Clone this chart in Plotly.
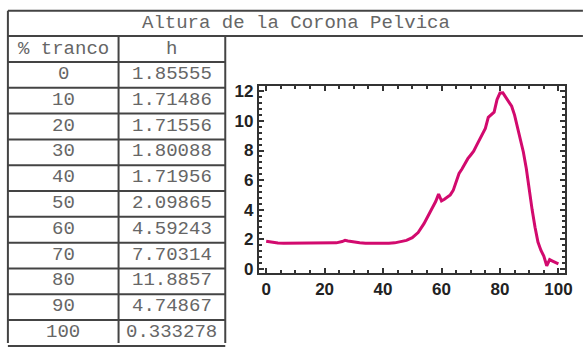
import plotly.graph_objects as go

# table values (Altura de la Corona Pelvica)
tranco = [0, 10, 20, 30, 40, 50, 60, 70, 80, 90, 100]
h_table = [1.85555, 1.71486, 1.71556, 1.80088, 1.71956, 2.09865,
           4.59243, 7.70314, 11.8857, 4.74867, 0.333278]

# curve
x_curve = [0, 2, 4, 6, 8, 10, 12, 14, 16, 18, 20, 22, 24, 26, 27, 28, 30, 32,
           34, 36, 38, 40, 42, 44, 46, 48, 50, 52, 54, 56, 58, 59, 60, 61, 62,
           63, 64, 65, 66, 67, 68, 69, 70, 71, 72, 73, 74, 75, 76, 77, 78, 79,
           80, 81, 82, 83, 84, 85, 86, 87, 88, 89, 90, 91, 92, 93, 94, 95, 96,
           97, 98, 99, 100]
y_curve = [1.86, 1.78, 1.74, 1.72, 1.72, 1.71, 1.72, 1.73, 1.71, 1.72, 1.72,
           1.73, 1.75, 1.84, 1.92, 1.88, 1.80, 1.76, 1.73, 1.72, 1.71, 1.72,
           1.72, 1.75, 1.82, 1.92, 2.10, 2.45, 3.05, 3.75, 4.55, 5.05, 4.59,
           4.70, 4.85, 5.00, 5.30, 5.95, 6.45, 6.75, 7.15, 7.45, 7.70, 7.95,
           8.35, 8.75, 9.05, 9.50, 10.25, 10.45, 10.60, 11.45, 11.89, 11.90,
           11.60, 11.30, 11.00, 10.40, 9.60, 8.80, 7.90, 6.80, 5.30, 4.00,
           2.80, 1.80, 1.25, 0.85, 0.20, 0.62, 0.52, 0.45, 0.33]

W, H = 583, 349
grid = "#444444"
txt = "#666666"
mono = "Liberation Mono, Courier New, monospace"
mono_font = dict(family=mono, size=19, color=txt, weight="normal")


def px(x):
    return x / W


def py(y):
    return 1 - y / H


fig = go.Figure()

fig.add_trace(go.Scatter(x=x_curve, y=y_curve, mode="lines",
                         line=dict(color="#d20a6e", width=3),
                         showlegend=False))

# table drawn as a grid of lines plus text (pixel layout)
col_x = [8, 120, 228]
row_top = 60.5
row_h = 26.5
line = dict(color=grid, width=2)


def hline(y, x0, x1):
    fig.add_shape(type="line", xref="paper", yref="paper",
                  x0=px(x0), x1=px(x1), y0=py(y), y1=py(y), line=line)


def cell_text(text, xc, yc):
    fig.add_annotation(x=px(xc), y=py(yc), xref="paper", yref="paper",
                       xanchor="center", yanchor="middle", text=text,
                       showarrow=False, font=mono_font)


hline(8, 8, 590)
hline(34, 8, 590)
for cx in col_x:
    fig.add_shape(type="line", xref="paper", yref="paper",
                  x0=px(cx), x1=px(cx), y0=py(34 if cx != 8 else 8), y1=0,
                  line=line)

cell_text("Altura de la Corona Pelvica", 300, 21)
cell_text("% tranco", 64, 47)
cell_text("h", 174, 47)
hline(row_top, 8, 228)
for i, (t, v) in enumerate(zip(tranco, h_table)):
    yc = row_top + row_h * (i + 0.5) - 1
    cell_text(str(t), 64, yc)
    cell_text(f"{v:.6g}", 174, yc)
    hline(row_top + row_h * (i + 1), 8, 228)

tick_font = dict(family="Liberation Sans, Arial", size=17, color="#222222", weight="bold")
axis_common = dict(showline=True, linecolor="#333333", linewidth=2, mirror="ticks",
                   ticks="inside", ticklen=5, tickwidth=1.5, tickcolor="#333333",
                   showgrid=False, zeroline=False, tickfont=tick_font)

fig.update_xaxes(domain=[px(262), px(572)], range=[-2.5, 102.3], dtick=20, tick0=0,
                 minor=dict(dtick=5, ticks="inside", ticklen=3, tickcolor="#333333"),
                 **axis_common)
fig.update_yaxes(domain=[py(277), py(85)], range=[-0.28, 12.38], dtick=2, tick0=0,
                 minor=dict(dtick=0.4, ticks="inside", ticklen=3, tickcolor="#333333"),
                 **axis_common)

fig.update_layout(width=W, height=H, margin=dict(l=0, r=0, t=0, b=0),
                  paper_bgcolor="white", plot_bgcolor="white")

page_fix = ("document.body.style.margin='0';"
            "for (const el of [document.documentElement, document.body]) {"
            "el.style.height='349px'; el.style.overflow='hidden';}")
fig.write_html("out.html", config={"displayModeBar": False}, post_script=page_fix)
